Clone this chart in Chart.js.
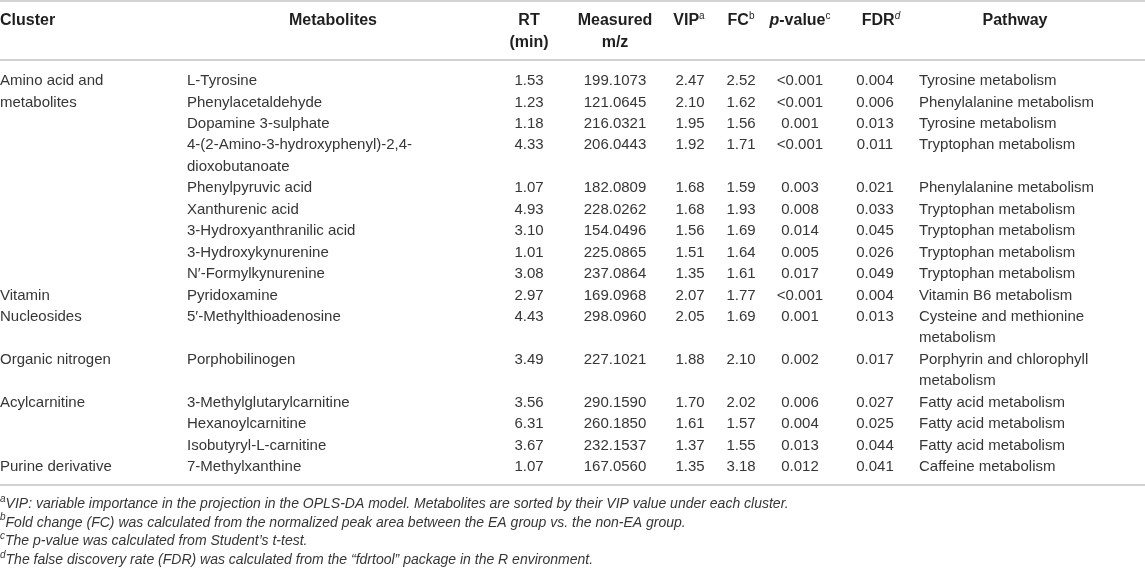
<!DOCTYPE html>
<html>
<head>
<meta charset="utf-8">
<script src="https://cdn.jsdelivr.net/npm/chart.js@4.4.1/dist/chart.umd.min.js"></script>
<style>
  html, body { margin: 0; padding: 0; background: #fff; }
  canvas { display: block; }
</style>
</head>
<body>
<canvas id="table" width="1145" height="572"></canvas>
<script>
// table contents
const headers = ['Cluster', 'Metabolites', 'RT\n(min)', 'Measured\nm/z', 'VIP', 'FC', 'p-value', 'FDR', 'Pathway'];
const headerNotes = ['', '', '', '', 'a', 'b', 'c', 'd', ''];

const clusters = ['Amino acid and\nmetabolites', 'Vitamin', 'Nucleosides', 'Organic nitrogen', 'Acylcarnitine', 'Purine derivative'];
const clusterOf = [0, 0, 0, 0, 0, 0, 0, 0, 0, 1, 2, 3, 4, 4, 4, 5];

const metabolites = [
  'L-Tyrosine', 'Phenylacetaldehyde', 'Dopamine 3-sulphate', '4-(2-Amino-3-hydroxyphenyl)-2,4-\ndioxobutanoate',
  'Phenylpyruvic acid', 'Xanthurenic acid', '3-Hydroxyanthranilic acid', '3-Hydroxykynurenine',
  'N\u2032-Formylkynurenine', 'Pyridoxamine', '5\u2032-Methylthioadenosine', 'Porphobilinogen',
  '3-Methylglutarylcarnitine', 'Hexanoylcarnitine', 'Isobutyryl-L-carnitine', '7-Methylxanthine'
];
const rt = [1.53, 1.23, 1.18, 4.33, 1.07, 4.93, 3.10, 1.01, 3.08, 2.97, 4.43, 3.49, 3.56, 6.31, 3.67, 1.07];
const mz = [199.1073, 121.0645, 216.0321, 206.0443, 182.0809, 228.0262, 154.0496, 225.0865,
  237.0864, 169.0968, 298.0960, 227.1021, 290.1590, 260.1850, 232.1537, 167.0560];
const vip = [2.47, 2.10, 1.95, 1.92, 1.68, 1.68, 1.56, 1.51, 1.35, 2.07, 2.05, 1.88, 1.70, 1.61, 1.37, 1.35];
const fc = [2.52, 1.62, 1.56, 1.71, 1.59, 1.93, 1.69, 1.64, 1.61, 1.77, 1.69, 2.10, 2.02, 1.57, 1.55, 3.18];
const pValues = ['<0.001', '<0.001', '0.001', '<0.001', '0.003', '0.008', '0.014', '0.005',
  '0.017', '<0.001', '0.001', '0.002', '0.006', '0.004', '0.013', '0.012'];
const fdr = [0.004, 0.006, 0.013, 0.011, 0.021, 0.033, 0.045, 0.026, 0.049, 0.004, 0.013, 0.017, 0.027, 0.025, 0.044, 0.041];
const pathways = [
  'Tyrosine metabolism', 'Phenylalanine metabolism', 'Tyrosine metabolism', 'Tryptophan metabolism',
  'Phenylalanine metabolism', 'Tryptophan metabolism', 'Tryptophan metabolism', 'Tryptophan metabolism',
  'Tryptophan metabolism', 'Vitamin B6 metabolism', 'Cysteine and methionine\nmetabolism',
  'Porphyrin and chlorophyll\nmetabolism', 'Fatty acid metabolism', 'Fatty acid metabolism',
  'Fatty acid metabolism', 'Caffeine metabolism'
];

const footnoteMarks = ['a', 'b', 'c', 'd'];
const footnotes = [
  'VIP: variable importance in the projection in the OPLS-DA model. Metabolites are sorted by their VIP value under each cluster.',
  'Fold change (FC) was calculated from the normalized peak area between the EA group vs. the non-EA group.',
  'The p-value was calculated from Student\u2019s t-test.',
  'The false discovery rate (FDR) was calculated from the \u201cfdrtool\u201d package in the R environment.'
];

// layout (x in px, y in table lines)
const FONT = "'Liberation Sans', Arial, Helvetica, sans-serif";
const TEXT = '#363636';
const HEAD = '#1f1f1f';
const RULE = '#d2d2d2';
const colX = [0, 187, 529, 615, 690, 741, 800, 875, 919];
const colAlign = ['left', 'left', 'center', 'center', 'center', 'center', 'center', 'center', 'left'];
const headerX = [0, 333, 529, 615, 689, 741, 800, 881, 1015];
const headerLines = [-2.8, -1.77];
const rules = [-3.73, -0.96, 18.84];
const footLine0 = 19.73, footStep = 0.872;

// line index where each metabolite row starts
const rowStart = [];
let line = 0;
metabolites.forEach((m, i) => {
  rowStart.push(line);
  line += Math.max(m.split('\n').length, pathways[i].split('\n').length);
});

const columns = [
  clusters.map((c, k) => ({ text: c, row: clusterOf.indexOf(k) })),
  metabolites.map((t, i) => ({ text: t, row: i })),
  rt.map((v, i) => ({ text: v.toFixed(2), row: i })),
  mz.map((v, i) => ({ text: v.toFixed(4), row: i })),
  vip.map((v, i) => ({ text: v.toFixed(2), row: i })),
  fc.map((v, i) => ({ text: v.toFixed(2), row: i })),
  pValues.map((v, i) => ({ text: v, row: i })),
  fdr.map((v, i) => ({ text: v.toFixed(3), row: i })),
  pathways.map((t, i) => ({ text: t, row: i }))
];

// one point per text line of every cell
const datasets = columns.map((cells, c) => {
  const pts = [];
  cells.forEach(cell => {
    cell.text.split('\n').forEach((t, k) => pts.push({ x: colX[c], y: rowStart[cell.row] + k, text: t }));
  });
  return { label: headers[c], data: pts, align: colAlign[c], pointRadius: 0 };
});

// header cells
const headPts = [];
headers.forEach((h, c) => {
  h.split('\n').forEach((t, k) => headPts.push({ x: headerX[c], y: headerLines[k], text: t, note: k === 0 ? headerNotes[c] : '', col: c }));
});
datasets.push({ label: 'header', data: headPts, header: true, pointRadius: 0 });

// footnotes
datasets.push({
  label: 'notes',
  data: footnotes.map((t, i) => ({ x: 0, y: footLine0 + i * footStep, text: t, note: footnoteMarks[i] })),
  footnote: true,
  pointRadius: 0
});

function drawRuns(ctx, runs, x, y, align) {
  let w = 0;
  runs.forEach(r => { ctx.font = r.font; w += ctx.measureText(r.t).width; });
  let cx = align === 'center' ? x - w / 2 : x;
  runs.forEach(r => {
    ctx.font = r.font;
    ctx.fillText(r.t, cx, y + (r.dy || 0));
    cx += ctx.measureText(r.t).width;
  });
}

const tablePlugin = {
  id: 'tablePlugin',
  afterDraw(chart) {
    const { ctx, scales: { x, y } } = chart;
    ctx.save();
    ctx.strokeStyle = RULE;
    ctx.lineWidth = 2;
    rules.forEach(v => {
      const py = Math.round(y.getPixelForValue(v));
      ctx.beginPath();
      ctx.moveTo(x.left, py);
      ctx.lineTo(x.right, py);
      ctx.stroke();
    });

    ctx.textBaseline = 'middle';
    ctx.textAlign = 'left';
    chart.data.datasets.forEach((ds, di) => {
      const meta = chart.getDatasetMeta(di);
      meta.data.forEach((el, j) => {
        const p = ds.data[j];
        let runs;
        if (ds.header) {
          ctx.fillStyle = HEAD;
          const bold = `bold 16px ${FONT}`;
          runs = p.text.startsWith('p-')
            ? [{ t: 'p', font: `italic bold 16px ${FONT}` }, { t: p.text.slice(1), font: bold }]
            : [{ t: p.text, font: bold }];
          if (p.note) runs.push({ t: p.note, font: `${p.note === 'd' ? 'italic ' : ''}10px ${FONT}`, dy: -5 });
          drawRuns(ctx, runs, el.x, el.y, p.col === 0 ? 'left' : 'center');
        } else if (ds.footnote) {
          ctx.fillStyle = TEXT;
          runs = [
            { t: p.note, font: `italic 10px ${FONT}`, dy: -5 },
            { t: p.text, font: `italic 14px ${FONT}` }
          ];
          drawRuns(ctx, runs, el.x, el.y, 'left');
        } else {
          ctx.fillStyle = TEXT;
          drawRuns(ctx, [{ t: p.text, font: `15px ${FONT}` }], el.x, el.y, ds.align);
        }
      });
    });
    ctx.restore();
  }
};

new Chart(document.getElementById('table'), {
  type: 'scatter',
  data: { datasets: datasets },
  options: {
    responsive: false,
    animation: false,
    events: [],
    layout: { padding: 0 },
    plugins: { legend: { display: false }, tooltip: { enabled: false } },
    scales: {
      x: { type: 'linear', display: false, min: 0, max: 1145 },
      y: { type: 'linear', display: false, reverse: true, min: -81 / 21.44, max: (572 - 81) / 21.44 }
    }
  },
  plugins: [tablePlugin]
});
</script>
</body>
</html>
